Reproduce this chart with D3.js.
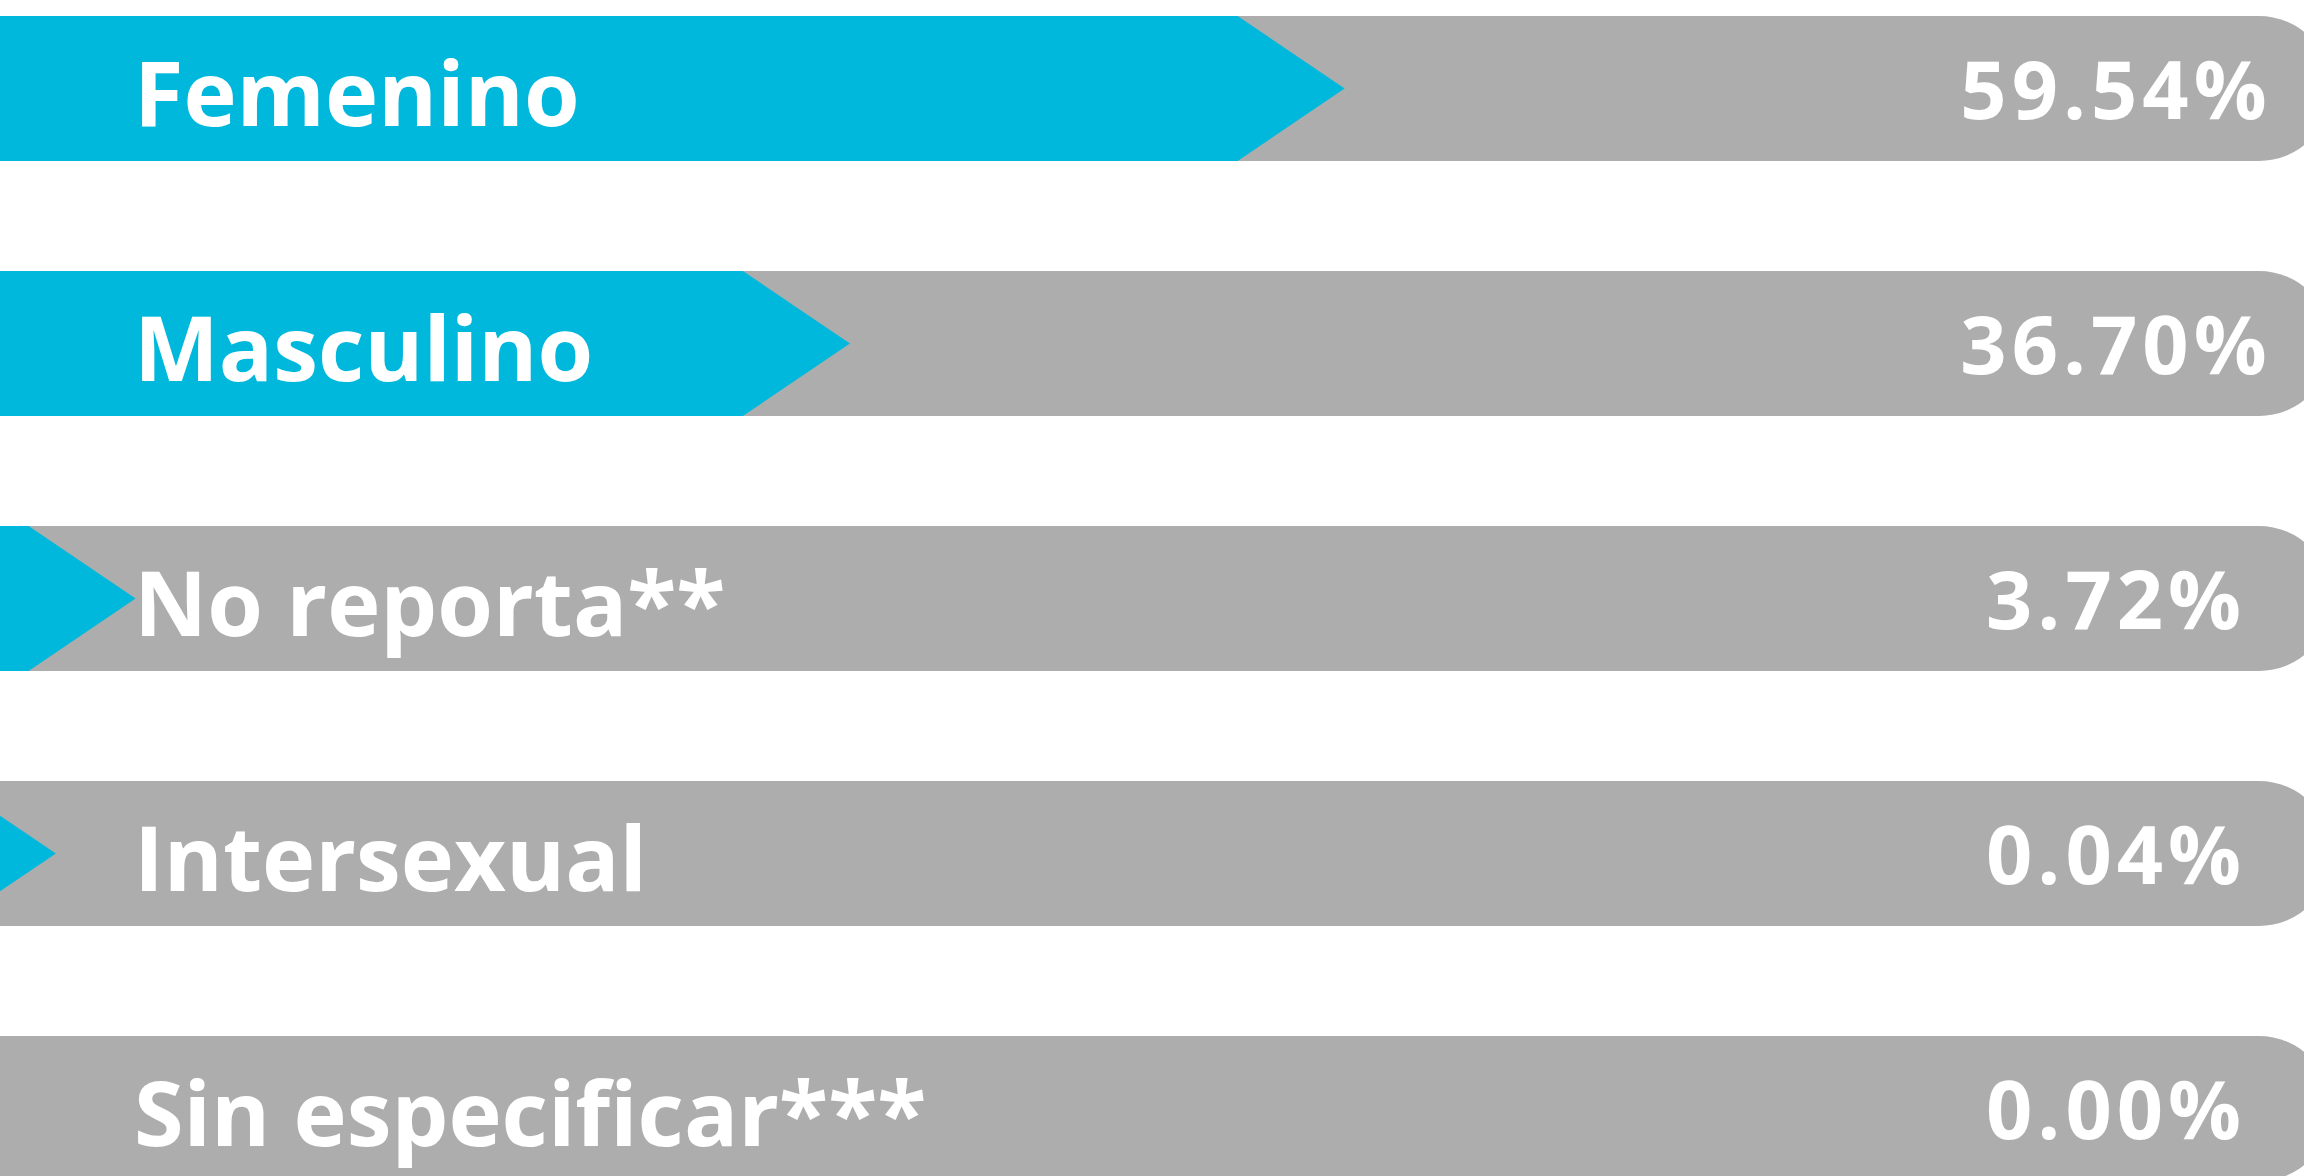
<!DOCTYPE html>
<html>
<head>
<meta charset="utf-8">
<script src="https://cdn.jsdelivr.net/npm/d3@7"></script>
<style>
  html, body { margin: 0; padding: 0; background: #ffffff; overflow: hidden; }
  svg { display: block; }
</style>
</head>
<body>
<svg id="chart" width="2304" height="1176"></svg>
<script>
const categories = ["Femenino", "Masculino", "No reporta**", "Intersexual", "Sin especificar***"];
const values = [59.54, 36.70, 3.72, 0.04, 0.00];
const valueLabels = ["59.54%", "36.70%", "3.72%", "0.04%", "0.00%"];

const W = 2304, H = 1176;
const BLUE = "#00b8dc", GREY = "#adadad";
const svg = d3.select("#chart");

const rows = categories.map((c, i) => ({ cat: c, value: values[i], label: valueLabels[i] }));

const y = d3.scaleBand().domain(categories).range([16, 1181]).paddingInner(110 / 255).paddingOuter(0);
const x = d3.scaleLinear().domain([0, 100]).range([55, 2221]); // arrow tip position
const bh = y.bandwidth();
const arrowLen = 107;
const capEndX = 2259;

const g = svg.selectAll("g.row").data(rows).join("g").attr("class", "row")
  .attr("transform", d => `translate(0,${y(d.cat)})`);

// grey track with rounded right end
g.append("path")
  .attr("fill", GREY)
  .attr("d", () => {
    const r = bh / 2;
    return `M0,0 H${capEndX} A${r},${r} 0 0 1 ${capEndX},${bh} H0 Z`;
  });

// blue arrow
g.filter(d => d.value > 0).append("path")
  .attr("fill", BLUE)
  .attr("d", d => {
    const tip = x(d.value);
    const base = tip - arrowLen;
    return `M-200,0 H${base} L${tip},${bh / 2} L${base},${bh} H-200 Z`;
  });

// category labels
g.append("text")
  .attr("x", 134)
  .attr("y", 110)
  .attr("fill", "#ffffff")
  .style("font-family", "'Open Sans', sans-serif")
  .style("font-weight", 700)
  .style("font-size", "90px")
  .text(d => d.cat);

// value labels
g.append("text")
  .attr("x", 2116)
  .attr("y", 103)
  .attr("text-anchor", "middle")
  .attr("fill", "#ffffff")
  .style("font-family", "'Open Sans', sans-serif")
  .style("font-weight", 700)
  .style("font-size", "81px")
  .style("letter-spacing", "5px")
  .text(d => d.label);
</script>
</body>
</html>
